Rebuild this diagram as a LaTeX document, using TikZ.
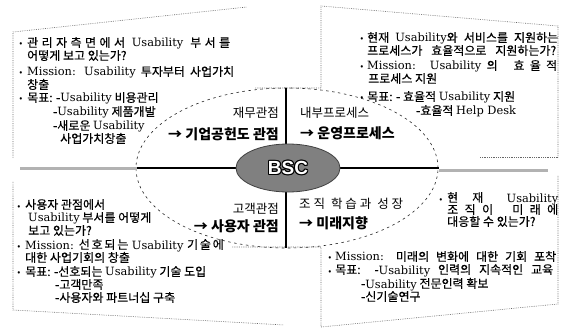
\documentclass[tikz,border=0pt]{standalone}
\usepackage{fontspec}
\setmainfont{Noto Sans CJK KR}
\newfontfamily\krbody{Noto Sans CJK KR}[FakeBold=0.3]
\newfontfamily\lat{DejaVu Serif}[Scale=0.95]
\newfontfamily\bscfont{Liberation Sans}
\usetikzlibrary{calc}
\newcommand\Lt[1]{{\lat #1}}
\newcommand\Usb{\Lt{Usability}}
\newcommand\jline[2]{\makebox[#1pt][s]{#2}}
\begin{document}
\begin{tikzpicture}[x=1pt,y=-1pt,
  body/.style={anchor=base west, inner sep=0pt, font=\krbody\fontsize{12}{13}\selectfont},
  bul/.style={anchor=base, inner sep=0pt, font=\fontsize{9}{10}\selectfont},
  lbl/.style={inner sep=0pt, font=\fontsize{12.5}{14}\selectfont},
  lblb/.style={inner sep=0pt, font=\fontsize{14}{15}\selectfont\bfseries},
  frame/.style={draw=black!60, line width=0.6pt, dash pattern=on 0.7pt off 1.1pt},
  oval/.style={draw=black!85, line width=0.6pt, dash pattern=on 2.5pt off 3.5pt},
  bscstyle/.style={inner sep=0pt, font=\bscfont\bfseries\fontsize{19}{20}\selectfont},
]
\useasboundingbox (0,0) rectangle (566,329);
\fill[white] (0,0) rectangle (566,329);

% frames
\draw[frame] (13,158) -- (13,32) -- (247,7);
\draw[frame] (255,88) -- (321,88) -- (321,6) -- (558,26) -- (558,158);
\draw[frame] (480,157) -- (558,157);
\draw[frame] (13,182) -- (13,310) -- (284,325);
\draw[frame] (232,247) -- (321,247) -- (321,327) -- (558,304) -- (558,176);

% dashed oval
\draw[oval] (287,168) ellipse [x radius=151pt, y radius=80pt];

% gray side bands
\draw[black!30, line width=3pt] (20,169) -- (137,169);
\draw[black!30, line width=3pt] (439,171) -- (548,171);

% cross
\draw[black, line width=1.3pt] (137,168) -- (439,168);
\draw[black, line width=1.1pt] (286,88) -- (286,248);

% BSC ellipse
\fill[black!50, draw=black!75, line width=0.8pt] (288,168) ellipse [x radius=52pt, y radius=24pt];
\foreach \a in {0,45,...,315}{
  \node[bscstyle, text=black] (bscsh\a) at ($(288,168)+(\a:1.1pt)$) {BSC};
}
\node[bscstyle, text=white] (bsc) at (288,168) {BSC};

% centre labels
\node[lbl, anchor=base east] (l1a) at (279,118) {재무관점};
\node[lblb, anchor=base east] (l1b) at (279,140) {→ 기업공헌도 관점};
\node[lbl, anchor=base west] (l2a) at (300,118) {내부프로세스};
\node[lblb, anchor=base west] (l2b) at (300,139) {→ 운영프로세스};
\node[lbl, anchor=base east] (l3a) at (279,213) {고객관점};
\node[lblb, anchor=base east] (l3b) at (279,232) {→ 사용자 관점};
\node[lbl, anchor=base west] (l4a) at (299,208) {\jline{104}{조 직 \ 학 습 과 \ 성 장}};
\node[lblb, anchor=base west] (l4b) at (299,229) {→ 미래지향};

% top-left text
\node[bul] (tlb1) at (21,47) {•};
\node[body] (tl1) at (27,47) {\jline{203}{관 리 자 측 면 에 서 \ \Usb\ \ 부 서 를}};
\node[body] (tl2) at (27,60) {어떻게 보고 있는가?};
\node[bul] (tlb2) at (21,76) {•};
\node[body] (tl3) at (27,76) {\jline{207}{\Lt{Mission:} \Usb\ 투자부터 사업가치}};
\node[body] (tl4) at (27,89) {창출};
\node[bul] (tlb3) at (21,102) {•};
\node[body] (tl5) at (27,102) {목표: -\Usb\ 비용관리};
\node[body] (tl6) at (53,116) {-\Usb\ 제품개발};
\node[body] (tl7) at (53,130) {-새로운 \Usb};
\node[body] (tl8) at (60,143) {사업가치창출};

% top-right text
\node[bul] (trb1) at (362,42) {•};
\node[body] (tr1) at (367,42) {\jline{191}{현재 \Usb 와 서비스를 지원하는}};
\node[body] (tr2) at (367,55) {\jline{189}{프로세스가 효율적으로 지원하는가?}};
\node[bul] (trb2) at (362,70) {•};
\node[body] (tr3) at (367,70) {\jline{190}{\Lt{Mission:} \ \Usb\ 의 \ \ 효 율 적}};
\node[body] (tr4) at (368,83) {프로세스 지원};
\node[bul] (trb3) at (362,101) {•};
\node[body] (tr5) at (367,101) {목표: - 효율적 \Usb\ 지원};
\node[body] (tr6) at (416,115) {-효율적 \Lt{Help Desk}};

% bottom-left text
\node[bul] (blb1) at (19,209) {•};
\node[body] (bl1) at (25,209) {사용자 관점에서};
\node[body] (bl2) at (28,222) {\Usb\ 부서를 어떻게};
\node[body] (bl3) at (28,235) {보고 있는가?};
\node[bul] (blb2) at (19,249) {•};
\node[body] (bl4) at (25,249) {\jline{193}{\Lt{Mission:} \ 선 호 되 는 \ \Usb\ \ 기 술 에}};
\node[body] (bl5) at (25,262) {대한 사업기회의 창출};
\node[bul] (blb3) at (19,276) {•};
\node[body] (bl6) at (25,276) {목표: -선호되는 \Usb\ 기술 도입};
\node[body] (bl7) at (55,289) {-고객만족};
\node[body] (bl8) at (55,302) {-사용자와 파트너십 구축};

% bottom-right text
\node[bul] (brb1) at (441,202) {•};
\node[body] (br1) at (447,202) {\jline{111}{현 \ \ 재 \ \ \ \ \Usb}};
\node[body] (br2) at (447,214) {\jline{111}{조 직 이 \ \ 미 래 에}};
\node[body] (br3) at (447,226) {대응할 수 있는가?};
\node[bul] (brb2) at (330,261) {•};
\node[body] (br4) at (335,261) {\jline{221}{\Lt{Mission:} 미래의 변화에 대한 기회 포착}};
\node[bul] (brb3) at (330,274) {•};
\node[body] (br5) at (335,274) {\jline{218}{목표: -\Usb\ 인력의 지속적인 교육}};
\node[body] (br6) at (361,288) {-\Usb\ 전문인력 확보};
\node[body] (br7) at (361,301) {-신기술연구};
\end{tikzpicture}
\end{document}
